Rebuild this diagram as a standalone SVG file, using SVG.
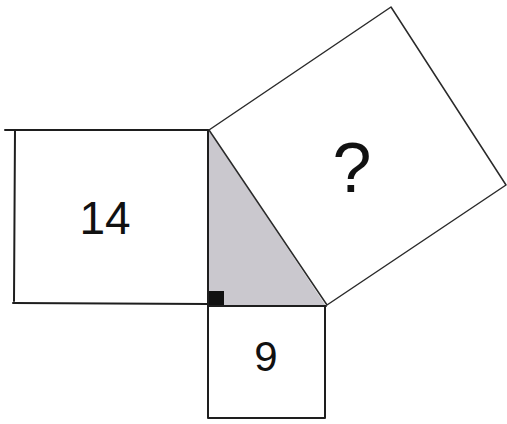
<svg xmlns="http://www.w3.org/2000/svg" width="507" height="424" viewBox="0 0 507 424">
<style>
.ln{fill:none;stroke:#1e1e1e;stroke-width:2;stroke-linecap:round;stroke-linejoin:round}
.thin{fill:none;stroke:#2a2a2a;stroke-width:1.5;stroke-linejoin:round}
.lbl{font-family:"Liberation Sans","DejaVu Sans",sans-serif;fill:#111;text-anchor:middle}
</style>
<rect width="507" height="424" fill="#ffffff"/>
<g id="triangle">
<polygon points="209,130 208,305 326,306" fill="#cac8ce" stroke="none"/>
<rect x="209" y="291" width="15" height="14" fill="#111"/>
</g>
<g id="square-14">
<path class="ln" d="M5,130 L208,130 M15,130 L14,301 M13,303 L208,304"/>
<text class="lbl" x="105" y="234" font-size="46">14</text>
</g>
<g id="square-9">
<path class="ln" d="M208,130 L208,418 L325,418 L325,306 M208,306 L326,306"/>
<text class="lbl" x="266" y="371" font-size="42">9</text>
</g>
<g id="square-hyp">
<path class="thin" d="M209,130 L391,7 L506,185 L327,305 Z"/>
<text class="lbl" x="352" y="192" font-size="70">?</text>
</g>
</svg>
